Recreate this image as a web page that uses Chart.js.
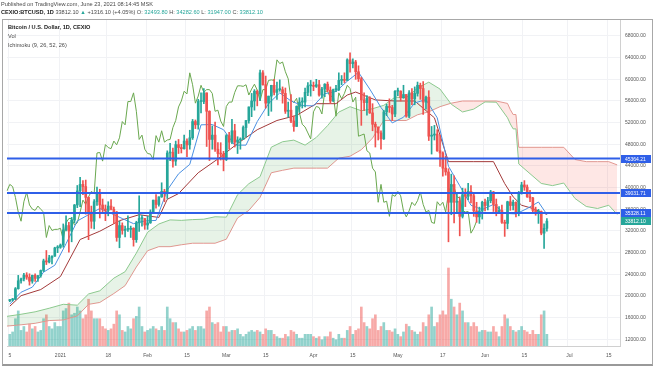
<!DOCTYPE html>
<html>
<head>
<meta charset="utf-8">
<script src="https://cdn.jsdelivr.net/npm/chart.js@4.4.1/dist/chart.umd.min.js"></script>
<style>
  html, body { margin: 0; padding: 0; background: #fff; }
  #wrap { position: relative; width: 654px; height: 366px; overflow: hidden; font-family: 'Liberation Sans', Arial, sans-serif; }
  #chart { position: absolute; left: 0; top: 0; }
  .txt { position: absolute; white-space: nowrap; color: #4a4a4a; font-size: 5.6px; line-height: 7px; }
  .teal { color: #26a69a; }
  b { color: #222; }
  #frame { position: absolute; left: 2px; top: 19px; width: 649px; height: 344px; border: 1px solid #a8a8a8; border-bottom: 2px solid #999; pointer-events: none; }
</style>
</head>
<body>
<div id="wrap">
  <canvas id="chart" width="654" height="366"></canvas>
  <div id="frame"></div>
  <div class="txt" style="left:1px;top:1px;">Published on TradingView.com, June 23, 2021 08:14:45 MSK</div>
  <div class="txt" style="left:1px;top:9px;"><b>CEXIO:BTCUSD, 1D</b> 33812.10 <span class="teal">&#9650;</span> +1316.10 (+4.05%) O: <span class="teal">32493.80</span> H: <span class="teal">34282.60</span> L: <span class="teal">31947.00</span> C: <span class="teal">33812.10</span></div>
  <div class="txt" style="left:8px;top:24px;"><b>Bitcoin / U.S. Dollar, 1D, CEXIO</b></div>
  <div class="txt" style="left:8px;top:33px;">Vol</div>
  <div class="txt" style="left:8px;top:42px;">Ichimoku (9, 26, 52, 26)</div>
</div>
<script>
// BTCUSD daily candles, Dec 14 2020 - Jun 23 2021
const opens = [
  19150,19270,19440,21350,22800,23150,23850,23480,22730,23820,23250,23730,24700,26480,26280,27030,27360,28880,
  28990,29400,32200,33000,32000,34000,36800,39400,40600,40200,38200,35500,33800,37400,39150,36800,36050,35800,36600,36000,35500,30800,33000,32100,32300,32300,32500,30400,33500,34300,34300,
  33100,33500,35500,37700,36900,38300,39300,38900,46400,46500,44900,47950,47400,47200,48600,47900,49200,52200,51600,55900,55900,57500,54100,48900,49700,47100,46300,46200,
  45200,49600,48400,50500,48400,48800,48900,51100,52400,54900,56000,57800,57300,61200,59000,55600,56900,58900,57600,58100,58100,57400,54100,54300,52300,51300,55000,55800,55800,57600,58800,
  58800,58700,59000,57100,58200,59100,58000,56000,58100,58100,59800,59900,59800,63600,62900,63200,61400,60100,56200,55700,56500,53800,51700,51200,50100,49000,54000,55000,54800,53600,
  57800,57800,56600,57200,53200,57500,56400,57400,58900,58300,55800,56700,49500,49700,49900,46800,46400,43600,42900,37300,40600,37300,37500,34700,38700,38400,39300,38500,35700,34600,35700,
  37300,36700,37600,39200,36900,35500,35800,33600,33400,37400,36700,37300,35500,39100,40500,40100,38300,38100,35800,35500,35600,31600,32494
];
const highs = [
  19350,19570,21560,23800,23300,24170,24300,24100,23850,24100,23800,24800,26800,28400,27500,27400,29000,29300,
  29600,33300,34800,33600,34500,36900,40400,41900,41300,41400,38300,36600,37800,40100,39700,37900,36800,37400,37800,36400,35600,33800,33500,32900,34800,32900,32600,33800,38500,34900,34300,
  34700,35900,37700,38700,38300,40900,39700,46800,48200,47300,48600,48900,48000,49700,49000,50600,52600,52500,56300,57500,58300,57500,54200,51400,52100,48300,48300,46700,
  49800,50200,52600,51700,49400,49200,51400,52400,54900,57400,58100,58000,61700,61600,60600,56900,58900,60000,59500,59900,58600,58400,55800,57200,53200,55100,56600,56600,58400,59400,59800,
  59500,60000,59800,58500,59200,59500,58600,58200,58900,61200,60700,61200,63800,64900,63800,63500,62500,60400,57500,57000,56800,55500,52100,51200,50500,54300,55400,56400,55200,57900,
  58400,57900,58900,57200,57900,58300,58600,59500,59300,59600,56900,57900,51300,51500,50700,49700,46600,45800,43500,42500,42200,38800,38300,39900,39800,40800,40400,38900,37300,36400,37500,
  37900,38200,39500,39300,37900,36500,36800,34000,37500,38400,37700,37400,39300,41000,41300,40500,39500,38200,36400,36000,35700,33300,34283
];
const lows = [
  18950,19050,19300,21250,22350,22800,23070,22000,22350,22700,22700,23450,24500,25800,26100,25900,27300,28000,
  28800,29000,32000,28100,30000,33500,36300,36500,38700,35100,30400,32500,32400,36700,34400,35400,33900,34800,35900,33400,30100,28900,31400,30900,31900,30800,29200,29900,31900,32900,32300,
  32300,33400,35400,36200,36600,38200,37400,38000,45000,43800,44100,46300,46400,47100,45700,47100,48900,50900,50800,53800,55500,47600,45000,47100,46700,44200,45100,43100,
  45000,47100,48100,47500,46300,47100,48900,49300,51900,53100,54300,55100,56100,58900,54700,53300,54100,57100,56300,57800,55600,53700,53000,52000,50400,51300,53900,54700,54900,57000,56900,
  57900,58500,56900,56500,56800,57700,55500,55900,57700,57900,59000,59400,59800,61300,62100,60000,59600,51500,54200,53400,53700,50500,47500,48800,47100,48900,53300,53900,52400,53100,
  57000,56000,56500,53000,52900,55300,55300,56900,56300,53500,54500,48700,46200,48800,46700,43900,42100,42300,30000,35000,33500,35300,31100,34400,36500,37800,37200,34700,33600,33400,34200,
  35700,35900,37200,35600,34800,35300,33400,31000,32400,35800,35900,34600,34800,38800,39500,38200,37400,35200,34900,33400,31300,28800,31947
];
const closes = [
  19270,19440,21350,22800,23150,23850,23480,22730,23820,23250,23730,24700,26480,26280,27030,27360,28880,28990,
  29400,32200,33000,32000,34000,36800,39400,40600,40200,38200,35500,33800,37400,39150,36800,36050,35800,36600,36000,35500,30800,33000,32100,32300,32300,32500,30400,33500,34300,34300,33100,
  33500,35500,37700,36900,38300,39300,38900,46400,46500,44900,47950,47400,47200,48600,47900,49200,52200,51600,55900,55900,57500,54100,48900,49700,47100,46300,46200,45200,
  49600,48400,50500,48400,48800,48900,51100,52400,54900,56000,57800,57300,61200,59000,55600,56900,58900,57600,58100,58100,57400,54100,54300,52300,51300,55000,55800,55800,57600,58800,58800,
  58700,59000,57100,58200,59100,58000,56000,58100,58100,59800,59900,59800,63600,62900,63200,61400,60100,56200,55700,56500,53800,51700,51200,50100,49000,54000,55000,54800,53600,57800,
  57800,56600,57200,53200,57500,56400,57400,58900,58300,55800,56700,49500,49700,49900,46800,46400,43600,42900,37300,40600,37300,37500,34700,38700,38400,39300,38500,35700,34600,35700,37300,
  36700,37600,39200,36900,35500,35800,33600,33400,37400,36700,37300,35500,39100,40500,40100,38300,38100,35800,35500,35600,31600,32496,33812
];
const volumes = [
  15,18,35,45,20,25,18,28,22,25,18,20,35,40,25,22,30,25,
  25,45,48,55,40,42,50,45,35,40,60,45,35,35,35,25,22,20,22,28,45,40,20,18,25,22,35,38,50,25,18,
  20,22,25,22,20,25,20,50,35,30,30,22,18,18,20,22,25,20,25,25,22,45,50,30,28,30,18,25,
  25,18,20,20,22,15,12,15,18,20,18,20,18,15,22,20,20,15,12,10,10,15,12,20,18,15,10,10,15,15,15,
  12,10,12,8,12,12,18,10,8,15,10,10,20,25,15,20,22,50,30,25,22,35,40,20,25,30,20,20,18,22,
  15,12,18,28,25,20,18,15,18,30,25,40,50,25,30,40,45,40,100,60,50,40,55,45,30,30,25,30,25,18,20,
  20,18,18,25,18,12,25,40,35,25,20,18,20,25,20,18,15,20,15,15,40,45,15
];

// Ichimoku lines
const tenkanDates = ['2020-12-14','2020-12-18','2020-12-22','2020-12-26','2020-12-30','2021-01-03','2021-01-07','2021-01-11','2021-01-15','2021-01-19','2021-01-23','2021-01-27','2021-01-31','2021-02-04','2021-02-08','2021-02-12','2021-02-16','2021-02-20','2021-02-24','2021-02-28','2021-03-04','2021-03-08','2021-03-12','2021-03-16','2021-03-20','2021-03-24','2021-03-28','2021-04-01','2021-04-05','2021-04-09','2021-04-13','2021-04-17','2021-04-21','2021-04-25','2021-04-29','2021-05-03','2021-05-07','2021-05-11','2021-05-15','2021-05-19','2021-05-23','2021-05-27','2021-05-31','2021-06-04','2021-06-08','2021-06-12','2021-06-16','2021-06-20','2021-06-23'];
const tenkanVals = [18495,20685,21625,24400,25675,29650,33850,35000,36150,35250,34300,33350,33850,33950,39550,42550,44300,51600,51650,50700,47850,47850,52200,55500,57500,56000,55150,55100,57350,57750,59650,61300,58200,54800,51950,53000,55650,56250,52900,43950,40350,36750,35950,36900,35250,35150,36150,37350,35050];
const kijunDates = ['2020-12-14','2020-12-18','2020-12-25','2021-01-01','2021-01-08','2021-01-15','2021-01-22','2021-01-29','2021-02-05','2021-02-08','2021-02-12','2021-02-19','2021-02-26','2021-03-05','2021-03-12','2021-03-19','2021-03-26','2021-04-02','2021-04-09','2021-04-13','2021-04-16','2021-04-23','2021-04-30','2021-05-07','2021-05-14','2021-05-19','2021-05-28','2021-06-04','2021-06-08','2021-06-11','2021-06-14','2021-06-18','2021-06-23'];
const kijunVals = [18110,20050,21185,23585,30425,31950,33900,35000,34500,37850,38900,42750,45300,48150,50700,52400,53350,55500,55500,57100,57650,56200,56000,56000,52900,44800,44800,44800,40750,38300,36750,36150,35050];
const spanDates = ['2020-12-13','2020-12-18','2020-12-23','2020-12-28','2021-01-02','2021-01-07','2021-01-11','2021-01-15','2021-01-20','2021-01-24','2021-01-28','2021-02-01','2021-02-05','2021-02-09','2021-02-13','2021-02-17','2021-02-21','2021-02-25','2021-03-01','2021-03-05','2021-03-09','2021-03-13','2021-03-17','2021-03-21','2021-03-25','2021-03-29','2021-04-02','2021-04-06','2021-04-10','2021-04-14','2021-04-18','2021-04-22','2021-04-26','2021-04-30','2021-05-04','2021-05-08','2021-05-12','2021-05-16','2021-05-20','2021-05-24','2021-05-28','2021-06-01','2021-06-05','2021-06-09','2021-06-10','2021-06-11','2021-06-12','2021-06-13','2021-06-17','2021-06-21','2021-06-25','2021-06-29','2021-07-03','2021-07-07','2021-07-11','2021-07-15','2021-07-18'];
const spanA = [16240,16625,17075,17735,18460,18300,20370,20950,23290,24480,27920,31760,33290,34050,33960,34100,34175,34625,34550,38700,40725,42025,47475,48475,48775,47850,49275,51450,53950,54950,54200,54575,55200,56700,56625,58375,59475,58200,55400,53975,54500,55825,55775,52900,51750,50850,50850,44375,42575,40775,40375,40850,38000,36525,36150,36750,35050];
const spanB = [14440,14675,14950,15460,15560,16310,18450,18800,20450,21900,25350,28350,29100,29100,29450,29735,29735,29735,30475,34400,35800,38200,42750,43200,43600,43600,43600,43600,45450,45800,47000,49150,52400,52400,52400,53450,54000,54950,55600,56000,56000,56000,56000,55550,54400,53500,53500,47450,47450,47450,47450,47450,45200,44800,44800,44800,44200];
const lagShift = 25;

// horizontal levels and axis
const levels = [45364.21, 39031.71, 35328.11];
const lastClose = 33812.10;
const yTicks = [12000,16000,20000,24000,28000,32000,36000,40000,44000,48000,52000,56000,60000,64000,68000];
const tickDates = ['2020-12-14','2021-01-01','2021-01-18','2021-02-01','2021-02-15','2021-03-01','2021-03-15','2021-04-01','2021-04-15','2021-05-01','2021-05-17','2021-06-01','2021-06-15','2021-07-01','2021-07-15'];
const tickTexts = ['5','2021','18','Feb','15','Mar','15','Apr','15','May','17','Jun','15','Jul','15'];

const UP = '#26a69a', DOWN = '#ef5350';
const family = "'Liberation Sans', Arial, sans-serif";

// one category per day
const labels = [];
for (let d = new Date(Date.UTC(2020, 11, 13)); d <= new Date(Date.UTC(2021, 6, 19)); d.setUTCDate(d.getUTCDate() + 1)) {
    labels.push(d.toISOString().slice(0, 10));
}
const candleDates = labels.slice(1, 1 + closes.length);
const isUp = closes.map((c, i) => c >= opens[i]);
const firstIdx = labels.indexOf(candleDates[0]);

const pts = (dates, vals) => dates.map((d, i) => ({ x: d, y: vals[i] }));
const lagging = [];
closes.forEach((c, i) => {
    const k = firstIdx + i - lagShift;
    if (k >= 0) lagging.push({ x: labels[k], y: c });
});

const levelSets = levels.map(v => ({
    type: 'line', label: 'level', data: [{ x: labels[0], y: v }, { x: labels[labels.length - 1], y: v }],
    borderColor: '#2f5fe8', borderWidth: 2, pointRadius: 0, order: 0
}));

const priceTags = {
    id: 'priceTags',
    afterDraw(chart) {
        const { ctx } = chart;
        const y = chart.scales.y;
        const tags = levels.map(v => [v, '#2f5fe8']).concat([[lastClose, UP]]);
        ctx.save();
        ctx.font = '5px ' + family;
        ctx.textBaseline = 'middle';
        tags.forEach(([v, c]) => {
            const py = Math.round(y.getPixelForValue(v));
            ctx.fillStyle = c;
            ctx.fillRect(y.left + 1, py - 4, 30, 8);
            ctx.fillStyle = '#fff';
            ctx.fillText(v.toFixed(2), y.left + 5, py + 0.5);
        });
        ctx.restore();
    }
};

new Chart(document.getElementById('chart'), {
    data: {
        labels: labels,
        datasets: [
            ...levelSets,
            {
                type: 'bar', label: 'Body', grouped: false, order: 1,
                data: candleDates.map((d, i) => ({ x: d, y: [opens[i], closes[i]] })),
                backgroundColor: isUp.map(u => u ? UP : DOWN),
                barThickness: 2, minBarLength: 1
            },
            {
                type: 'bar', label: 'Wick', grouped: false, order: 2,
                data: candleDates.map((d, i) => ({ x: d, y: [lows[i], highs[i]] })),
                backgroundColor: isUp.map(u => u ? UP : DOWN),
                barThickness: 1
            },
            {
                type: 'line', label: 'Conversion', order: 3, data: pts(tenkanDates, tenkanVals),
                borderColor: '#4a90e2', borderWidth: 1, pointRadius: 0
            },
            {
                type: 'line', label: 'Base', order: 4, data: pts(kijunDates, kijunVals),
                borderColor: '#a33a3a', borderWidth: 1, pointRadius: 0
            },
            {
                type: 'line', label: 'Lagging', order: 5, data: lagging,
                borderColor: '#6aa84f', borderWidth: 1, pointRadius: 0
            },
            {
                type: 'line', label: 'Lead A', order: 6, data: pts(spanDates, spanA),
                borderColor: '#8cc98e', borderWidth: 1, pointRadius: 0,
                fill: { target: '+1', above: 'rgba(67,160,71,0.13)', below: 'rgba(244,67,54,0.13)' }
            },
            {
                type: 'line', label: 'Lead B', order: 7, data: pts(spanDates, spanB),
                borderColor: '#e59a96', borderWidth: 1, pointRadius: 0
            },
            {
                type: 'bar', label: 'Volume', grouped: false, order: 8, yAxisID: 'yv',
                data: candleDates.map((d, i) => ({ x: d, y: volumes[i] })),
                backgroundColor: isUp.map(u => u ? 'rgba(38,166,154,0.5)' : 'rgba(239,83,80,0.5)'),
                barThickness: 2
            }
        ]
    },
    options: {
        responsive: false,
        animation: false,
        layout: { padding: { left: 3, top: 20, right: 2, bottom: 1 } },
        plugins: { legend: { display: false }, tooltip: { enabled: false } },
        scales: {
            x: {
                type: 'category', offset: false,
                afterFit: ax => { ax.height = 19; },
                ticks: {
                    autoSkip: false, maxRotation: 0, padding: 7, color: '#555',
                    font: { size: 5, family: family },
                    callback: (v, i) => {
                        const k = tickDates.indexOf(labels[i]);
                        return k >= 0 ? tickTexts[k] : '';
                    }
                },
                grid: {
                    drawTicks: false,
                    color: ctx => tickDates.includes(labels[ctx.index]) ? '#f1f2f5' : 'rgba(0,0,0,0)'
                },
                border: { color: '#d0d0d0' }
            },
            y: {
                position: 'right', min: 10763, max: 70954,
                afterFit: ax => { ax.width = 32; },
                afterBuildTicks: ax => { ax.ticks = yTicks.map(v => ({ value: v })); },
                ticks: {
                    padding: 5, color: '#555', font: { size: 5, family: family },
                    callback: v => Number(v).toFixed(2)
                },
                grid: { drawTicks: false, color: '#f1f2f5' },
                border: { color: '#d0d0d0' }
            },
            yv: { display: false, min: 0, max: 418 }
        }
    },
    plugins: [priceTags]
});
</script>
</body>
</html>
